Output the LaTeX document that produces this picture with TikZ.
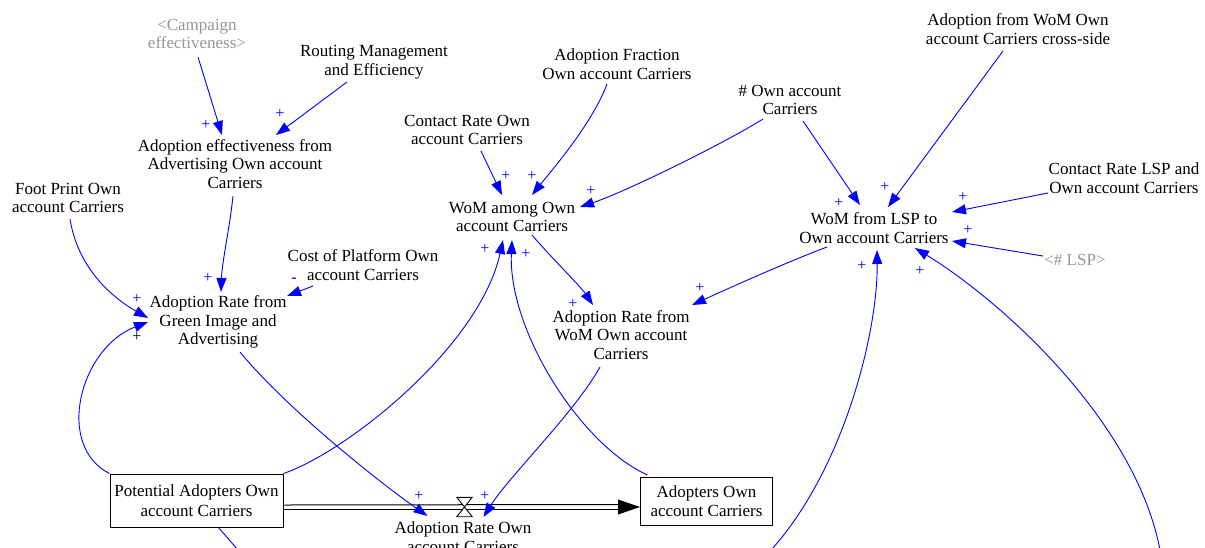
\documentclass[tikz,border=0pt]{standalone}
\usepackage{fontspec}
\setmainfont{Liberation Serif}
\usetikzlibrary{arrows.meta}
\definecolor{shadowgray}{RGB}{150,150,150}
\definecolor{linkblue}{RGB}{0,0,255}
\begin{document}
\begin{tikzpicture}[x=1pt,y=-1pt,
  lbl/.style={align=center, font=\fontsize{17}{18.7}\selectfont, inner sep=1pt, text=black},
  shadowvar/.style={lbl, text=shadowgray},
  stock/.style={draw, line width=0.9pt, align=center, font=\fontsize{17}{19.5}\selectfont, inner sep=0pt},
  conn/.style={linkblue, line width=0.9pt, -{Triangle[length=14pt,width=10pt]}},
  connplain/.style={linkblue, line width=0.9pt},
  pipeline/.style={line width=1pt, black},
  pol/.style={text=linkblue, font=\fontsize{16}{16}\selectfont, inner sep=0pt},
  polblack/.style={text=black, font=\fontsize{16}{16}\selectfont, inner sep=0pt},
]
\useasboundingbox (0,0) rectangle (1205,547);

% variables
\node[shadowvar] (camp) at (197,34) {<Campaign\\effectiveness>};
\node[lbl] (route) at (374,62) {Routing Management\\and Efficiency};
\node[lbl] (adeff) at (235,164) {Adoption effectiveness from\\Advertising Own account\\Carriers};
\node[lbl] (foot) at (68,198) {Foot Print Own\\account Carriers};
\node[lbl] (crown) at (467,130) {Contact Rate Own\\account Carriers};
\node[lbl] (afrac) at (617,64) {Adoption Fraction\\Own account Carriers};
\node[lbl] (nown) at (790,100) {\# Own account\\Carriers};
\node[lbl] (afwc) at (1018,29) {Adoption from WoM Own\\account Carriers cross-side};
\node[lbl] (crlsp) at (1124,178) {Contact Rate LSP and\\Own account Carriers};
\node[lbl] (woma) at (512,217) {WoM among Own\\account Carriers};
\node[lbl] (woml) at (874,228) {WoM from LSP to\\Own account Carriers};
\node[shadowvar] (lsp) at (1075,260) {<\# LSP>};
\node[lbl] (cost) at (363,265) {Cost of Platform Own\\account Carriers};
\node[lbl] (arg) at (218,322) {Adoption Rate from\\Green Image and\\Advertising};
\node[lbl] (arw) at (621,335) {Adoption Rate from\\WoM Own account\\Carriers};
\node[lbl] (arl) at (463,537) {Adoption Rate Own\\account Carriers};

% stocks
\node[stock, minimum width=173pt, minimum height=53pt] (pot) at (196.5,500.5) {Potential Adopters Own\\account Carriers};
\node[stock, minimum width=132pt, minimum height=48pt] (adop) at (706.5,501) {Adopters Own\\account Carriers};

% flow pipe and valve
\draw[pipeline] ([shift={(1,4.5)}]pot.east) -- ([shift={(-20,3.5)}]adop.west);
\draw[pipeline] ([shift={(1,8.5)}]pot.east) -- ([shift={(-20,8)}]adop.west);
\fill ([shift={(0,6)}]adop.west) -- ++(-22,-7.5) -- ++(0,15) -- cycle;
\node[minimum width=15pt, minimum height=19pt, inner sep=0pt] (valve) at (464.5,507) {};
\filldraw[fill=white, line width=0.9pt] (valve.north west) -- (valve.north east) -- (valve.south west) -- (valve.south east) -- cycle;

% connectors
\draw[conn] ([shift={(1,23)}]camp.center) -- ([shift={(-13,-29)}]adeff.center);
\draw[conn] ([shift={(-27,20)}]route.center) -- ([shift={(41,-29)}]adeff.center);
\draw[conn] ([shift={(-2,32)}]adeff.center) .. controls +(-3,30) and +(1,-30) .. ([shift={(3,-30)}]arg.center);
\draw[conn] ([shift={(2,21)}]foot.center) .. controls +(8,50) and +(-35,-20) .. ([shift={(-70,-4)}]arg.center);
\draw[conn] ([shift={(-50,21)}]cost.center) -- ([shift={(69,-26)}]arg.center);
\draw[conn] (pot.north west) .. controls +(-55,-28) and +(-68,26) .. ([shift={(-70,0)}]arg.center);
\draw[conn] ([shift={(22,30)}]arg.center) .. controls +(45,55) and +(-50,-35) .. ([shift={(-37,9)}]valve.center);
\draw[conn] (pot.north east) .. controls +(66,-23) and +(-23,105) .. ([shift={(-9,23)}]woma.center);
\draw[conn] ([shift={(-59,-26)}]adop.center) .. controls +(-67,-30) and +(-4,90) .. ([shift={(0,23)}]woma.center);
\draw[conn] ([shift={(14,21)}]crown.center) -- ([shift={(-10,-22)}]woma.center);
\draw[conn] ([shift={(-10,20)}]afrac.center) .. controls +(-15,40) and +(20,-25) .. ([shift={(20,-22)}]woma.center);
\draw[conn] ([shift={(-27,19)}]nown.center) .. controls +(-40,25) and +(45,-15) .. ([shift={(68,-10)}]woma.center);
\draw[conn] ([shift={(20,18)}]woma.center) .. controls +(15,18) and +(-12,-18) .. ([shift={(-28,-30)}]arw.center);
\draw[conn] ([shift={(-21,32)}]arw.center) .. controls +(-25,45) and +(25,-40) .. ([shift={(19,10)}]valve.center);
\draw[conn] ([shift={(-47,19)}]woml.center) .. controls +(-40,15) and +(35,-16) .. ([shift={(71,-30)}]arw.center);
\draw[conn] ([shift={(13,21)}]nown.center) -- ([shift={(-14,-23)}]woml.center);
\draw[conn] ([shift={(-15,22)}]afwc.center) -- ([shift={(14,-21)}]woml.center);
\draw[conn] ([shift={(-76,15)}]crlsp.center) -- ([shift={(78,-16)}]woml.center);
\draw[conn] ([shift={(-32,-4)}]lsp.center) -- ([shift={(78,13)}]woml.center);
\coordinate (b1) at (772,549);
\coordinate (b2) at (1160,550);
\coordinate (b3) at (238,550);
\draw[conn] (b1) .. controls +(73,-82) and +(1,80) .. ([shift={(3,22)}]woml.center);
\draw[conn] (b2) .. controls +(-25,-130) and +(85,52) .. ([shift={(41,20)}]woml.center);
\draw[connplain] ([shift={(22,27)}]pot.center) -- (b3);

% polarities
\node[pol] (p1) at (206,125) {+};
\node[pol] (p2) at (280,114) {+};
\node[pol] (p3) at (208,278) {+};
\node[pol] (p4) at (137,299) {+};
\node[polblack] (p5) at (137,337) {+};
\node[pol] (m1) at (294,280) {-};
\node[pol] (p7) at (419,496) {+};
\node[pol] (p8) at (485,249) {+};
\node[pol] (p9) at (526,254) {+};
\node[pol] (p10) at (506,176) {+};
\node[pol] (p11) at (532,176) {+};
\node[pol] (p12) at (591,191) {+};
\node[pol] (p13) at (573,304) {+};
\node[pol] (p14) at (485,496) {+};
\node[pol] (p15) at (700,288) {+};
\node[pol] (p16) at (839,203) {+};
\node[pol] (p17) at (885,187) {+};
\node[pol] (p18) at (963,197) {+};
\node[pol] (p19) at (968,230) {+};
\node[pol] (p20) at (862,266) {+};
\node[pol] (p21) at (920,271) {+};
\end{tikzpicture}
\end{document}
